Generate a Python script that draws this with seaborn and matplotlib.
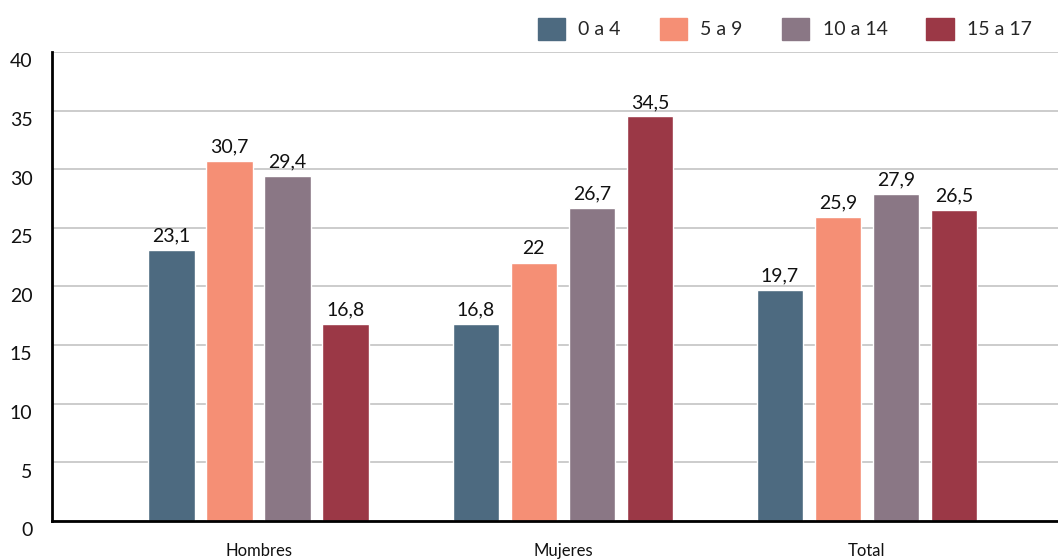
import matplotlib
matplotlib.use("Agg")
import matplotlib.pyplot as plt
import matplotlib.transforms as mtransforms
import seaborn as sns
import pandas as pd

groups = ["Hombres", "Mujeres", "Total"]
ages = ["0 a 4", "5 a 9", "10 a 14", "15 a 17"]
age_0_4 = [23.1, 16.8, 19.7]
age_5_9 = [30.7, 22.0, 25.9]
age_10_14 = [29.4, 26.7, 27.9]
age_15_17 = [16.8, 34.5, 26.5]
colors = ["#4d6a80", "#f58f75", "#8a7785", "#9b3846"]

rows = []
for age, vals in zip(ages, [age_0_4, age_5_9, age_10_14, age_15_17]):
    for g, v in zip(groups, vals):
        rows.append({"grupo": g, "edad": age, "valor": v})
df = pd.DataFrame(rows)

sns.set_style("white")
plt.rcParams["font.family"] = ["Lato", "DejaVu Sans"]

fig = plt.figure(figsize=(10.58, 5.59), dpi=100)
ax = fig.add_axes([0.049, 0.068, 0.951, 0.839])

sns.barplot(data=df, x="grupo", y="valor", hue="edad", hue_order=ages,
            palette=colors, width=0.763, gap=0.2, saturation=1,
            ax=ax, legend=False)

for cont in ax.containers:
    labels = [f"{b.get_height():g}".replace(".", ",") for b in cont]
    ax.bar_label(cont, labels=labels, padding=4, fontsize=14, color="#111111")

ax.set_ylim(0, 40)
ax.set_xlim(-0.68, 2.628)
ax.set_yticks(range(0, 41, 5))
ax.yaxis.grid(True, color="#c4c4c4", linewidth=1.2)
ax.set_axisbelow(True)
ax.set_xlabel("")
ax.set_ylabel("")
for s in ["top", "right"]:
    ax.spines[s].set_visible(False)
ax.spines["left"].set_color("black")
ax.spines["left"].set_linewidth(2)
ax.spines["bottom"].set_color("black")
ax.spines["bottom"].set_linewidth(2)
ax.tick_params(axis="y", length=0, labelsize=14, pad=14, labelcolor="#111111")
ax.tick_params(axis="x", length=0, labelsize=12, pad=16, labelcolor="#111111")

offset = mtransforms.ScaledTranslation(0, -6 / 72, fig.dpi_scale_trans)
for lab in ax.get_yticklabels():
    lab.set_transform(lab.get_transform() + offset)

handles = [plt.Rectangle((0, 0), 1, 1, color=c) for c in colors]
fig.legend(handles, ages, loc="upper right", bbox_to_anchor=(0.992, 1.0),
           ncol=4, frameon=False, fontsize=14, handlelength=1.4,
           handleheight=1.4, handletextpad=0.7, columnspacing=2.0)

fig.savefig("out.png", dpi=100)
